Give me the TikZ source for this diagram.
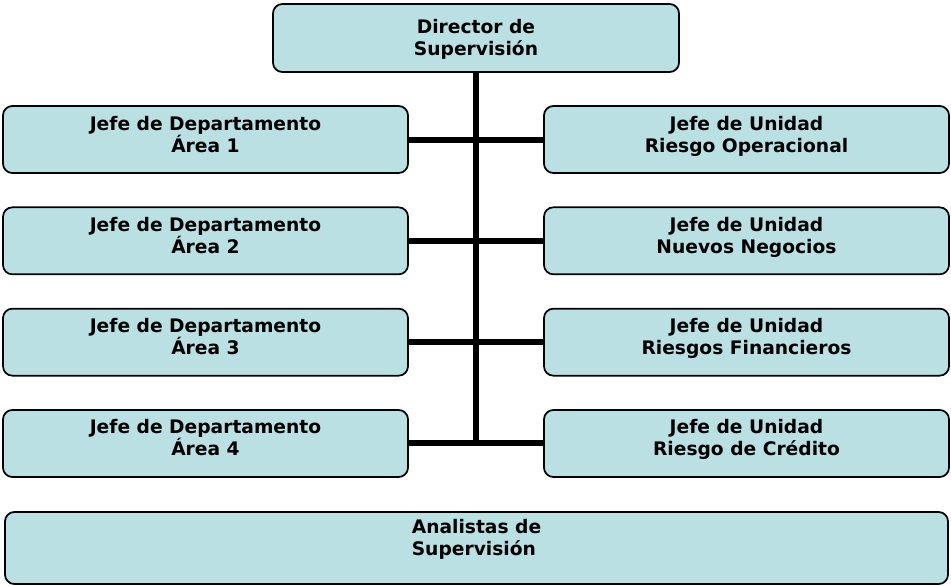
\documentclass[tikz,border=0pt]{standalone}
\usepackage{fontspec}
\setmainfont{DejaVu Sans}
\usepackage[svgnames]{xcolor}
\usepackage{tikz}
\usetikzlibrary{
  positioning,
  calc}

\definecolor{boxfill}{HTML}{BBE0E3}
\newcommand{\px}{*0.75pt}

\tikzset{
  cargo/.style={draw=black, line width=1.3pt, fill=boxfill, rounded corners=7pt,
    minimum width=405\px, minimum height=67\px, inner sep=0pt,
    text height=28\px, text depth=3\px,
    align=center, font=\fontsize{14}{16.5}\selectfont\bfseries},
  enlace/.style={line width=4.5pt, black},
}

\begin{document}
\begin{tikzpicture}[x=0.75pt, y=-0.75pt]
\useasboundingbox (0,0) rectangle (951,586);

\node[cargo, minimum width=406\px, minimum height=68\px, text height=37\px] (dir) at (476,38) {Director de\\Supervisión};

\foreach[count=\k] \area/\unidad in {1/Riesgo Operacional, 2/Nuevos Negocios, 3/Riesgos Financieros, 4/Riesgo de Crédito} {
  \node[cargo] (jefe\k) at (205.5,{139.5+101.33*(\k-1)}) {Jefe de Departamento\\Área \area};
  \node[cargo] (unid\k) at (746.5,{139.5+101.33*(\k-1)}) {Jefe de Unidad\\\unidad};
}

\coordinate (tronco) at (dir.south |- jefe4.east);
\draw[enlace] (dir.south) -- ($(tronco)+(0,3)$);
\foreach \k in {1,...,4} {
  \draw[enlace] (jefe\k.east) -- (unid\k.west);
}

\node[cargo, minimum width=943\px, minimum height=72\px, text height=17\px, align=left] (anal) at (476.5,548) {Analistas de\\Supervisión};

\end{tikzpicture}
\end{document}
